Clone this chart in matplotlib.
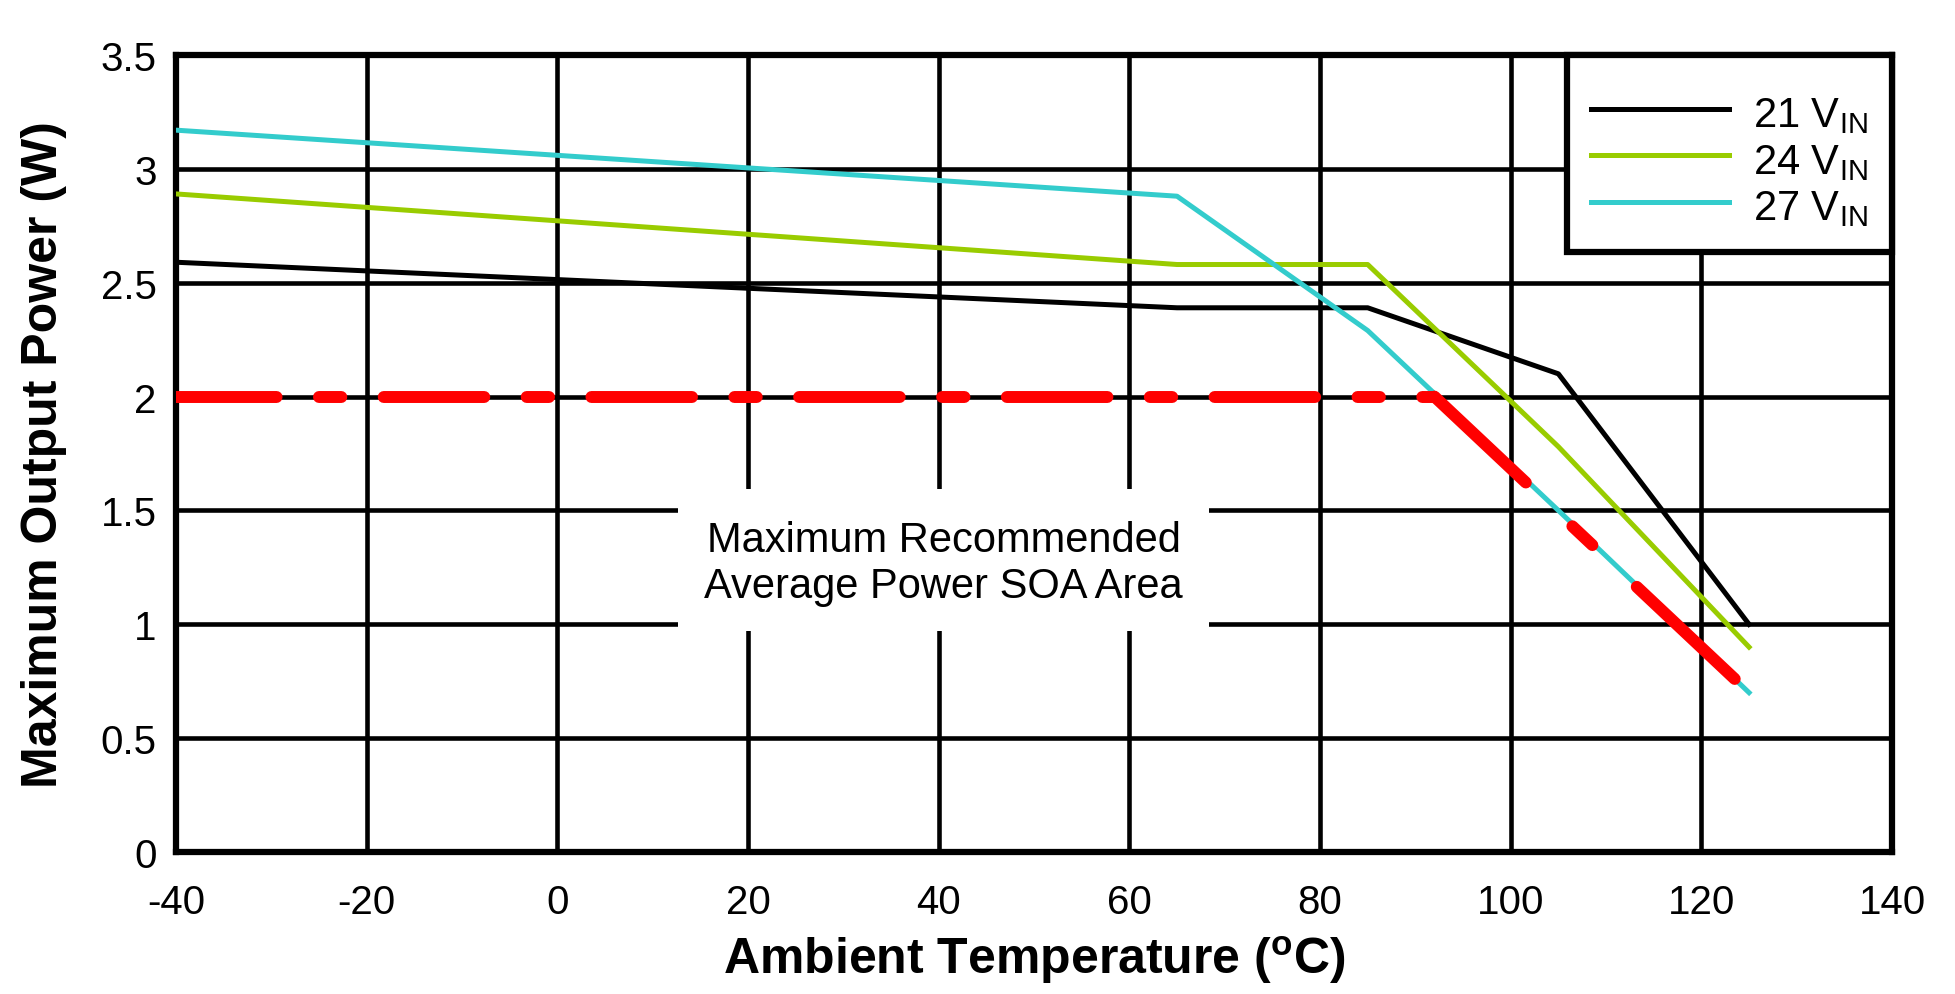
import matplotlib
matplotlib.use('Agg')
import matplotlib.pyplot as plt
from matplotlib.patches import Rectangle

plt.rcParams['font.family'] = ['Liberation Sans', 'DejaVu Sans']
plt.rcParams['mathtext.fontset'] = 'custom'
plt.rcParams['mathtext.rm'] = 'Liberation Sans'
plt.rcParams['mathtext.bf'] = 'Liberation Sans:bold'
plt.rcParams['axes.unicode_minus'] = False

# curves
t_21 = [-40, 65, 85, 105, 125]
p_21 = [2.59, 2.39, 2.39, 2.10, 1.00]
t_24 = [-40, 65, 85, 105, 125]
p_24 = [2.89, 2.58, 2.58, 1.78, 0.90]
t_27 = [-40, 65, 85, 105, 125]
p_27 = [3.17, 2.88, 2.29, 1.50, 0.70]
# recommended SOA limit (red dashed)
t_soa = [-40, 92, 123.5]
p_soa = [2.0, 2.0, 0.76]

labels = ['21 V$_{\\mathrm{IN}}$', '24 V$_{\\mathrm{IN}}$', '27 V$_{\\mathrm{IN}}$']
colors = ['#000000', '#99CC00', '#33CCCC']

x_ticks = [-40, -20, 0, 20, 40, 60, 80, 100, 120, 140]
y_ticks = [0, 0.5, 1, 1.5, 2, 2.5, 3, 3.5]

fig = plt.figure(figsize=(19.56, 9.95), dpi=100)
ax = fig.add_axes([0.0900, 0.1427, 0.8773, 0.8010])

ax.plot(t_21, p_21, color=colors[0], lw=3.6, label=labels[0], zorder=3)
ax.plot(t_24, p_24, color=colors[1], lw=3.6, label=labels[1], zorder=3)
ax.plot(t_27, p_27, color=colors[2], lw=3.6, label=labels[2], zorder=3)

# flat part and sloped part of the limit use different dash lengths
ax.plot(t_soa[:2], p_soa[:2], color='#FF0000', lw=8.6, zorder=4,
        linestyle=(0, (8.42, 3.55, 1.87, 3.55)), dash_capstyle='round')
ax.plot(t_soa[1:], p_soa[1:], color='#FF0000', lw=8.6, zorder=4,
        linestyle=(0, (10.5, 5.35, 2.3, 5.1, 12, 5)), dash_capstyle='round')

# white patch behind the annotation hides the grid
ax.add_patch(Rectangle((12.7, 0.97), 55.7, 0.624, facecolor='white',
                       edgecolor='none', zorder=1.5))
ax.text(40.5, 1.27, 'Maximum Recommended\nAverage Power SOA Area',
        ha='center', va='center', fontsize=30, linespacing=1.2, zorder=2)

ax.set_xlim(-40, 140)
ax.set_ylim(0, 3.5)
ax.set_xticks(x_ticks)
ax.set_yticks(y_ticks)
ax.set_xticklabels([str(v) for v in x_ticks])
ax.set_yticklabels(['%g' % v for v in y_ticks])
ax.tick_params(axis='both', length=0, labelsize=29)
ax.tick_params(axis='x', pad=22)
ax.tick_params(axis='y', pad=14)
ax.grid(True, color='black', lw=3.3)
ax.set_axisbelow(True)
for s in ax.spines.values():
    s.set_linewidth(4.5)

ax.set_xlabel('Ambient Temperature ($^{\\mathbf{o}}$C)', fontsize=36,
              fontweight='bold')
ax.set_ylabel('Maximum Output Power (W)', fontsize=36, fontweight='bold')
ax.xaxis.set_label_coords(0.5, -0.102)
ax.yaxis.set_label_coords(-0.0635, 0.5)

# a blank tiny title pushes the rows down a little inside the frame
leg = ax.legend(loc='upper right', borderaxespad=0, fontsize=30,
                title=' ', title_fontsize=7,
                fancybox=False, framealpha=1, edgecolor='black',
                handlelength=3.31, handleheight=1.15, handletextpad=0.58,
                labelspacing=0.06, borderpad=0.58)
leg.get_frame().set_linewidth(4.5)
leg.set_zorder(10)

fig.savefig('out.png', dpi=100)
